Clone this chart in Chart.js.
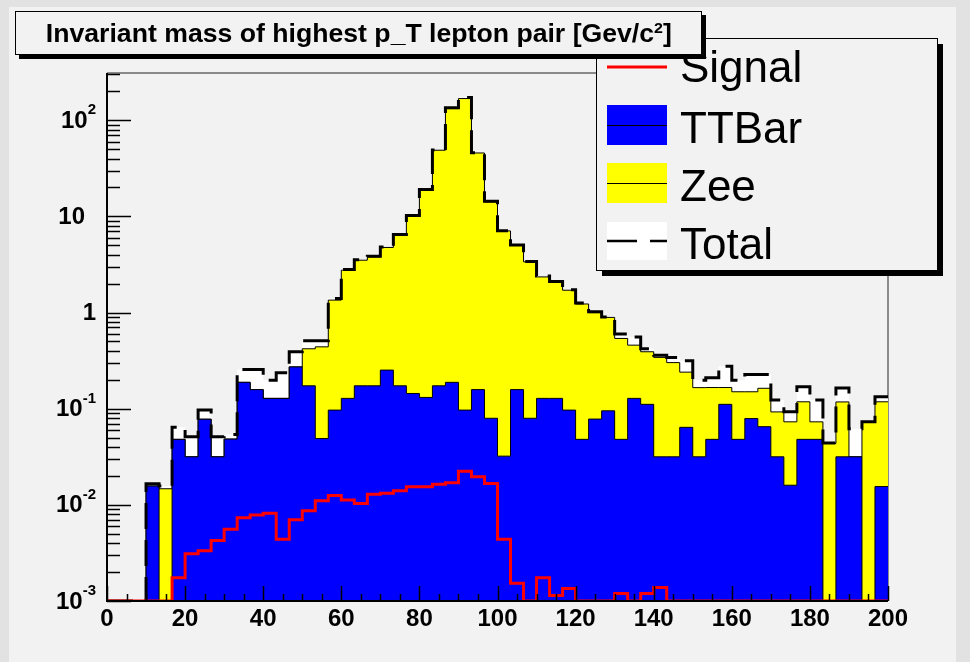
<!DOCTYPE html>
<html>
<head>
<meta charset="utf-8">
<title>Invariant mass of highest p_T lepton pair</title>
<script src="https://cdn.jsdelivr.net/npm/chart.js@4.4.1/dist/chart.umd.min.js"></script>
<style>
  html, body { margin: 0; padding: 0; }
  body { width: 970px; height: 662px; background: #e2e2e2; position: relative; overflow: hidden; }
  #pad { position: absolute; left: 9px; top: 7px; width: 947px; height: 655px; background: #f2f2f2; }
  #grafica { position: absolute; left: 0; top: 0; }
  #titulo {
    position: absolute; left: 15px; top: 11px; width: 685px; height: 42px;
    border: 1px solid #000; background: #f2f2f2; box-shadow: 4px 4px 0 #000;
    font-family: "Liberation Sans", Arial, sans-serif; font-weight: bold; font-size: 25px;
    line-height: 43px; text-align: center; white-space: nowrap; overflow: hidden;
  }
  #titulo span { display: inline-block; transform-origin: center center; }
  #titulo sup { font-size: 15px; line-height: 0; }
</style>
</head>
<body>
<div id="pad"></div>
<canvas id="grafica" width="970" height="662"></canvas>
<div id="titulo"><span id="textoTitulo">Invariant mass of highest p_T lepton pair [Gev/c<sup>2</sup>]</span></div>

<script>
// Histogramas de 60 bins entre 0 y 200 GeV/c^2 (ancho 3.33)
const xMin = 0;
const xMax = 200;
const nBins = 60;

const ttbar = [
    0, 0, 0, 0.0157, 0, 0.048, 0.0316, 0.0777, 0.0316, 0.0483,
    0.188, 0.158, 0.128, 0.128, 0.272, 0.173, 0.049, 0.0967, 0.128, 0.173,
    0.173, 0.252, 0.173, 0.144, 0.131, 0.173, 0.188, 0.0967, 0.158, 0.0795,
    0.0321, 0.158, 0.0795, 0.128, 0.128, 0.0967, 0.048, 0.078, 0.095, 0.048,
    0.128, 0.111, 0.0316, 0.0316, 0.064, 0.0316, 0.048, 0.111, 0.048, 0.079,
    0.065, 0.0316, 0.016, 0.048, 0.048, 0, 0.0316, 0.0316, 0, 0.0155
];

const zee = [
    0, 0, 0, 0, 0.0147, 0, 0, 0, 0, 0,
    0, 0, 0, 0, 0, 0.247, 0.391, 1.25, 2.63, 3.33,
    3.62, 4.5, 6.31, 9.96, 18.6, 48.6, 132, 168, 45.5, 14.1,
    7.03, 4.84, 3.29, 2.22, 1.95, 1.61, 1.18, 0.92, 0.795, 0.49,
    0.33, 0.28, 0.31, 0.27, 0.176, 0.134, 0.118, 0.055, 0.102, 0.071,
    0.098, 0.061, 0.057, 0.07, 0.025, 0.0435, 0.086, 0, 0.073, 0.1025
];

const signal = [
    0, 0, 0, 0, 0, 0.00175, 0.0031, 0.00334, 0.00425, 0.00557,
    0.00735, 0.00783, 0.0082, 0.0044, 0.007, 0.0087, 0.011, 0.0125, 0.0112, 0.0103,
    0.0129, 0.0132, 0.014, 0.0154, 0.0154, 0.0164, 0.017, 0.0224, 0.0196, 0.0167,
    0.0044, 0.00153, 0, 0.00175, 0.00114, 0.00135, 0, 0, 0, 0.0012,
    0, 0.0012, 0.00138, 0, 0, 0, 0, 0, 0, 0,
    0, 0, 0, 0, 0, 0, 0, 0, 0, 0
];

const total = [
    0, 0, 0, 0.0166, 0.0157, 0.064, 0.051, 0.0967, 0.051, 0.054,
    0.256, 0.256, 0.198, 0.237, 0.39, 0.51, 0.51, 1.4, 2.8, 3.55,
    3.85, 4.8, 6.5, 10.2, 19, 49, 135, 172, 46, 14.4,
    7.1, 5.05, 3.4, 2.4, 2.1, 1.73, 1.26, 1.02, 0.9, 0.6,
    0.556, 0.42, 0.36, 0.34, 0.315, 0.198, 0.21, 0.277, 0.198, 0.227,
    0.227, 0.123, 0.093, 0.169, 0.123, 0.044, 0.164, 0.062, 0.073, 0.133
];

// ejes
const yMin = 0.001;
const yMax = 310;
const xTickValues = [0, 20, 40, 60, 80, 100, 120, 140, 160, 180, 200];
const xTickLabels = ['0', '20', '40', '60', '80', '100', '120', '140', '160', '180', '200'];
const yTickValues = [0.001, 0.01, 0.1, 1, 10, 100];
const yTickBase = ['10', '10', '10', '1', '10', '10'];
const yTickExp = ['-3', '-2', '-1', '', '', '2'];

const etiquetas = ['Signal', 'TTBar', 'Zee', 'Total'];

const binWidth = (xMax - xMin) / nBins;
const zeeApilado = ttbar.map((t, i) => t + zee[i]);

// puntos en el borde izquierdo de cada bin; los bins vacios se dibujan sobre el eje (como ROOT)
function pasos(valores) {
    const pts = valores.map((v, i) => ({ x: xMin + i * binWidth, y: Math.max(v, yMin) }));
    pts.push({ x: xMax, y: Math.max(valores[valores.length - 1], yMin) });
    return pts;
}

const fuente = '"Liberation Sans", Arial, sans-serif';

const marco = {
    id: 'marco',
    beforeDatasetsDraw(chart) {
        const { ctx, chartArea: a } = chart;
        ctx.save();
        ctx.strokeStyle = '#8a8a8a';
        ctx.lineWidth = 2;
        ctx.beginPath();
        ctx.moveTo(a.left, a.top);
        ctx.lineTo(a.right, a.top);
        ctx.lineTo(a.right, a.bottom);
        ctx.stroke();
        ctx.restore();
    },
    afterDatasetsDraw(chart) {
        const { ctx, chartArea: a, scales: { x, y } } = chart;
        ctx.save();
        ctx.strokeStyle = '#000';
        ctx.lineWidth = 2;
        ctx.beginPath();
        ctx.moveTo(a.left, a.top);
        ctx.lineTo(a.left, a.bottom);
        ctx.lineTo(a.right, a.bottom);
        ctx.stroke();

        // marcas del eje x (cada 5, largas cada 20)
        ctx.lineWidth = 1.5;
        ctx.beginPath();
        for (let v = xMin; v <= xMax; v += 5) {
            const px = Math.round(x.getPixelForValue(v)) + 0.5;
            const largo = v % 20 === 0 ? 15 : 7;
            ctx.moveTo(px, a.bottom);
            ctx.lineTo(px, a.bottom - largo);
        }
        // marcas del eje y (logaritmico)
        for (let d = -3; d <= 2; d++) {
            for (let m = 1; m <= 9; m++) {
                const v = m * Math.pow(10, d);
                if (v > yMax) break;
                const py = Math.round(y.getPixelForValue(v)) + 0.5;
                const largo = m === 1 ? 24 : 13;
                ctx.moveTo(a.left, py);
                ctx.lineTo(a.left + largo, py);
            }
        }
        ctx.stroke();

        // etiquetas
        ctx.fillStyle = '#000';
        ctx.font = 'bold 24px ' + fuente;
        ctx.textAlign = 'center';
        ctx.textBaseline = 'top';
        xTickValues.forEach((v, i) => {
            ctx.fillText(xTickLabels[i], x.getPixelForValue(v), a.bottom + 6);
        });

        const borde = 96;
        ctx.textBaseline = 'middle';
        yTickValues.forEach((v, i) => {
            const py = y.getPixelForValue(v);
            ctx.font = 'bold 15px ' + fuente;
            const anchoExp = yTickExp[i] ? ctx.measureText(yTickExp[i]).width : (yTickBase[i] === '10' ? 11 : 0);
            ctx.textAlign = 'right';
            if (yTickExp[i]) ctx.fillText(yTickExp[i], borde, py - 10);
            ctx.font = 'bold 24px ' + fuente;
            ctx.fillText(yTickBase[i], borde - anchoExp, py + 1);
        });
        ctx.restore();
    },
    afterDraw(chart) {
        const ctx = chart.ctx;
        const ds = chart.data.datasets;
        ctx.save();
        // caja de la leyenda con sombra
        ctx.fillStyle = '#000';
        ctx.fillRect(602, 44, 341, 232);
        ctx.fillStyle = '#f2f2f2';
        ctx.fillRect(596, 38, 341, 232);
        ctx.strokeStyle = '#000';
        ctx.lineWidth = 1;
        ctx.strokeRect(596.5, 38.5, 341, 232);

        const x0 = 607, w = 60;
        // Signal
        ctx.strokeStyle = ds[0].borderColor;
        ctx.lineWidth = 3;
        ctx.beginPath(); ctx.moveTo(x0, 67); ctx.lineTo(x0 + w, 67); ctx.stroke();
        // TTBar
        ctx.fillStyle = ds[2].backgroundColor;
        ctx.fillRect(x0, 105, w, 40);
        ctx.strokeStyle = '#000'; ctx.lineWidth = 1;
        ctx.beginPath(); ctx.moveTo(x0, 125.5); ctx.lineTo(x0 + w, 125.5); ctx.stroke();
        // Zee
        ctx.fillStyle = ds[3].backgroundColor;
        ctx.fillRect(x0, 163, w, 40);
        ctx.beginPath(); ctx.moveTo(x0, 183.5); ctx.lineTo(x0 + w, 183.5); ctx.stroke();
        // Total
        ctx.fillStyle = '#ffffff';
        ctx.fillRect(x0, 222, w, 38);
        ctx.strokeStyle = '#000'; ctx.lineWidth = 2.5;
        ctx.setLineDash([30, 13]);
        ctx.beginPath(); ctx.moveTo(x0, 241); ctx.lineTo(x0 + w, 241); ctx.stroke();
        ctx.setLineDash([]);

        ctx.fillStyle = '#000';
        ctx.font = '44px ' + fuente;
        ctx.textAlign = 'left';
        ctx.textBaseline = 'alphabetic';
        const bases = [82, 143, 201, 259];
        etiquetas.forEach((t, i) => ctx.fillText(t, 680, bases[i]));
        ctx.restore();
    }
};

const comun = { stepped: true, pointRadius: 0, tension: 0 };

new Chart(document.getElementById('grafica'), {
    type: 'line',
    data: {
        datasets: [
            Object.assign({ label: 'Signal', data: pasos(signal), borderColor: '#ff0000', borderWidth: 3, fill: false }, comun),
            Object.assign({ label: 'Total', data: pasos(total), borderColor: '#000000', borderWidth: 3, borderDash: [26, 11], fill: false }, comun),
            Object.assign({ label: 'TTBar', data: pasos(ttbar), borderColor: '#000000', borderWidth: 1, backgroundColor: '#0000ff', fill: 'start' }, comun),
            Object.assign({ label: 'Zee', data: pasos(zeeApilado), borderColor: '#000000', borderWidth: 1, backgroundColor: '#ffff00', fill: 'start' }, comun),
            Object.assign({ label: 'Total (relleno)', data: pasos(total), borderWidth: 0, borderColor: 'rgba(0,0,0,0)', backgroundColor: '#ffffff', fill: 'start' }, comun)
        ]
    },
    options: {
        responsive: false,
        animation: false,
        devicePixelRatio: 1,
        events: [],
        layout: { padding: { left: 107, right: 82, top: 73, bottom: 61 } },
        plugins: { legend: { display: false }, tooltip: { enabled: false }, title: { display: false } },
        scales: {
            x: { type: 'linear', display: false, min: xMin, max: xMax },
            y: { type: 'logarithmic', display: false, min: yMin, max: yMax }
        }
    },
    plugins: [marco]
});

// ajustar el ancho del titulo al de la imagen original
const tt = document.getElementById('textoTitulo');
const escala = 626 / tt.getBoundingClientRect().width;
tt.style.transform = 'scaleX(' + escala + ')';
</script>
</body>
</html>
